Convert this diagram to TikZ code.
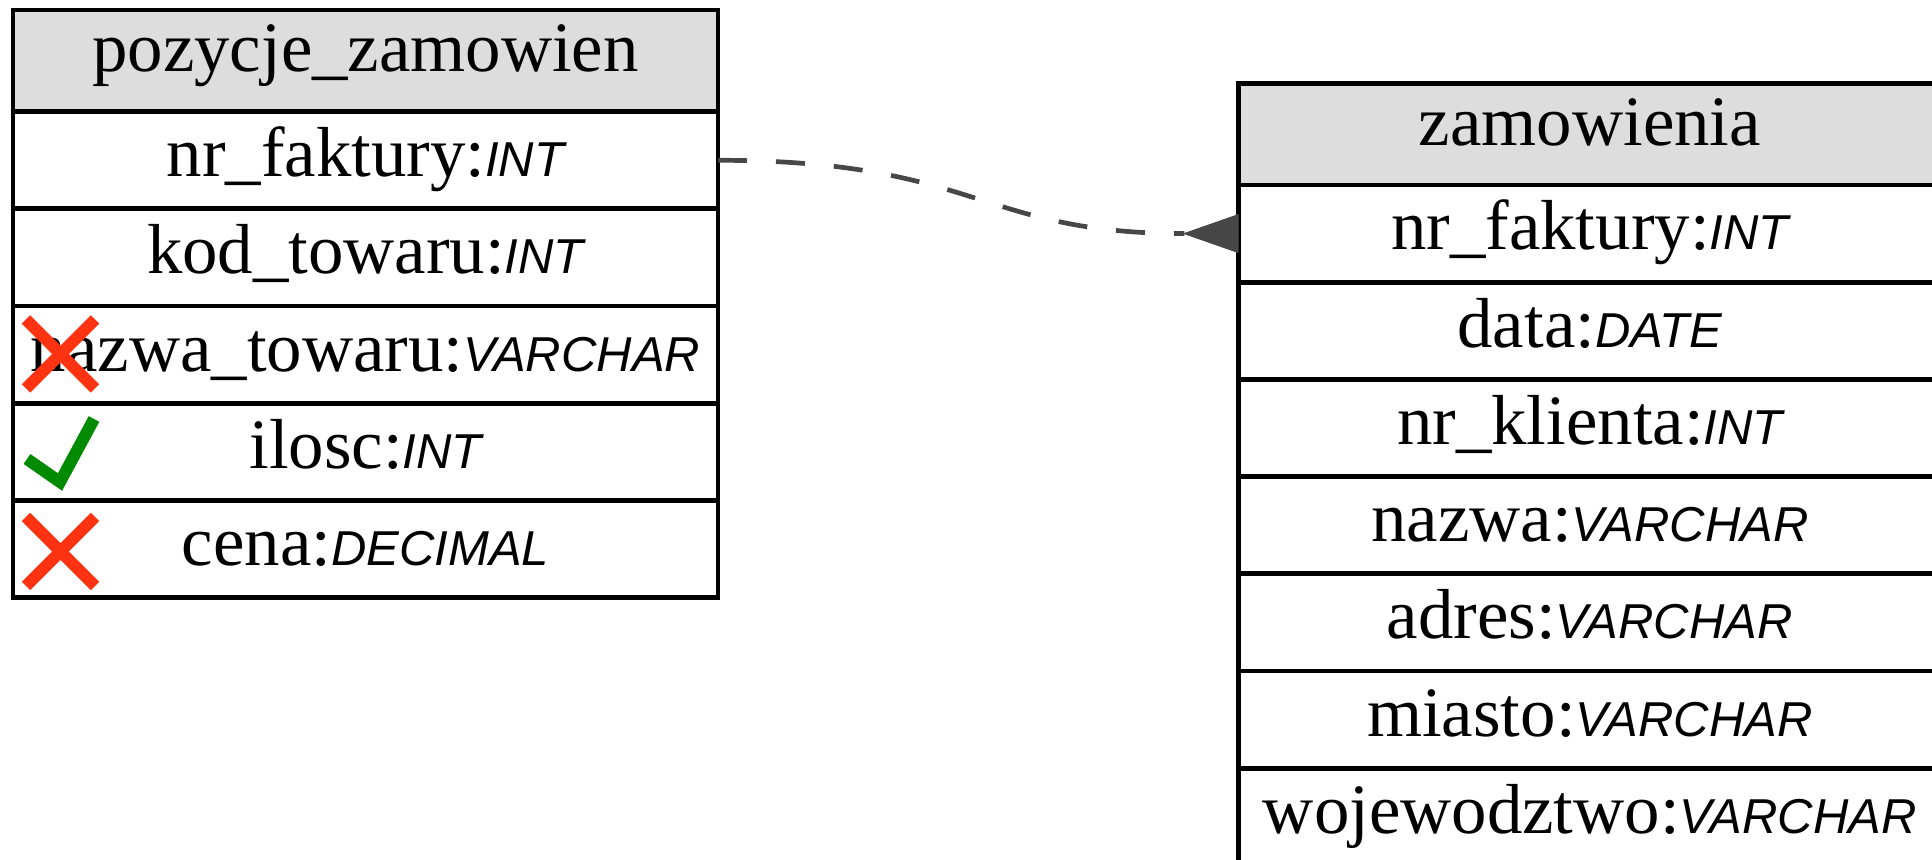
\documentclass[tikz,border=0pt]{standalone}
\usepackage{fontspec}
\setmainfont{Liberation Serif}
\newfontfamily\typefont{Liberation Sans}
\usetikzlibrary{arrows.meta}
\definecolor{hdr}{HTML}{DDDDDD}
\definecolor{edgegray}{HTML}{474747}
\definecolor{xred}{HTML}{FF3311}
\definecolor{okgreen}{HTML}{008A00}
\newcommand{\ty}[1]{{\typefont\itshape\fontsize{24.5}{28}\selectfont #1}}
\begin{document}
\begin{tikzpicture}[x=0.5pt,y=-0.5pt,
  cell/.style={draw=black,line width=2.4pt,rectangle,inner sep=0pt,outer sep=0pt,
    minimum height=48.6pt,text height=24pt,text depth=7.6pt,
    font=\fontsize{35.4}{40}\selectfont},
  lcell/.style={cell,minimum width=352.5pt},
  rcell/.style={cell,minimum width=351.15pt},
  head/.style={fill=hdr,minimum height=50.85pt,text height=20pt,text depth=8.85pt},
  conn/.style={draw=edgegray,line width=2.35pt,dash pattern=on 14.5pt off 14.5pt,
    -{Triangle[reversed,length=28pt,width=19.5pt,fill=edgegray,line width=0.5pt]}},
  xmark/.style={draw=xred,line width=6pt,line cap=butt},
  checkmark/.style={draw=okgreen,line width=6pt,line cap=butt,line join=miter}
]
\useasboundingbox (0,0) rectangle (1932,860);
% left table
\node[lcell,head] (lh) at (365.5,60.85) {pozycje\_zamowien};
\node[lcell] (l1) at (365.5,160.3) {nr\_faktury:\ty{INT}};
\node[lcell] (l2) at (365.5,257.5) {kod\_towaru:\ty{INT}};
\node[lcell] (l3) at (365.5,354.7) {nazwa\_towaru:\ty{VARCHAR}};
\node[lcell] (l4) at (365.5,451.9) {ilosc:\ty{INT}};
\node[lcell] (l5) at (365.5,549.1) {cena:\ty{DECIMAL}};
% right table
\node[rcell,head] (rh) at (1589.85,134.15) {zamowienia};
\node[rcell] (r1) at (1589.85,233.6) {nr\_faktury:\ty{INT}};
\node[rcell] (r2) at (1589.85,330.8) {data:\ty{DATE}};
\node[rcell] (r3) at (1589.85,428.0) {nr\_klienta:\ty{INT}};
\node[rcell] (r4) at (1589.85,525.2) {nazwa:\ty{VARCHAR}};
\node[rcell] (r5) at (1589.85,622.4) {adres:\ty{VARCHAR}};
\node[rcell] (r6) at (1589.85,719.6) {miasto:\ty{VARCHAR}};
\node[rcell] (r7) at (1589.85,816.8) {wojewodztwo:\ty{VARCHAR}};
% connector
\draw[conn] (l1.east) .. controls +(130pt,0pt) and +(-130pt,0pt) .. (r1.west);
% icons
\draw[xmark] (26,319.5) -- (95,388.5) (26,388.5) -- (95,319.5);
\draw[checkmark] (27,459) -- (60,482) -- (94,419);
\draw[xmark] (26,517) -- (95,586) (26,586) -- (95,517);
\end{tikzpicture}
\end{document}
